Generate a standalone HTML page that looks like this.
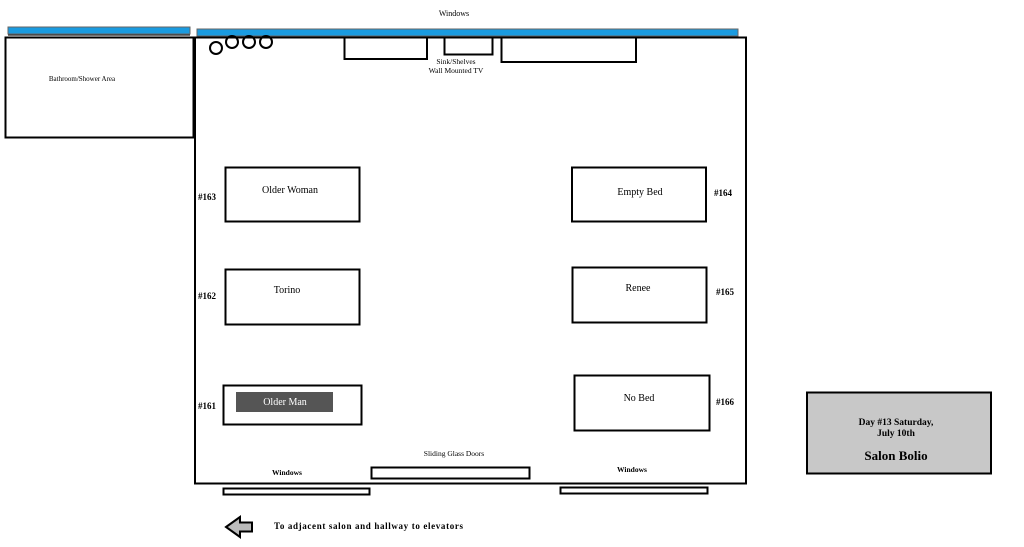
<!DOCTYPE html>
<html><head><meta charset="utf-8"><style>html,body{margin:0;padding:0;background:#fff}svg{display:block}</style></head><body>
<svg width="1024" height="547" viewBox="0 0 1024 547" xmlns="http://www.w3.org/2000/svg" font-family="Liberation Serif, serif">
<rect width="1024" height="547" fill="#fff"/>
<rect x="8" y="27" width="182" height="7" fill="#1a9be0" stroke="#666" stroke-width="1"/>
<line x1="8" y1="35" x2="190" y2="35" stroke="#444" stroke-width="1.5"/>
<rect x="197" y="29" width="541" height="7" fill="#1a9be0" stroke="#666" stroke-width="1"/>
<line x1="197" y1="37" x2="738" y2="37" stroke="#777" stroke-width="1"/>
<text x="454" y="16" font-size="8" text-anchor="middle">Windows</text>
<rect x="5.5" y="37.5" width="188" height="100" fill="none" stroke="#000" stroke-width="2"/>
<text x="82" y="81" font-size="7" text-anchor="middle">Bathroom/Shower Area</text>
<rect x="195" y="37.5" width="551" height="446" fill="none" stroke="#000" stroke-width="2"/>
<g fill="none" stroke="#000" stroke-width="2">
<circle cx="216" cy="48" r="6"/><circle cx="232" cy="42" r="6"/><circle cx="249" cy="42" r="6"/><circle cx="266" cy="42" r="6"/>
</g>
<g fill="none" stroke="#000" stroke-width="2">
<path d="M344.5 37 V59 H427 V37"/>
<path d="M444.5 37 V54.5 H492.5 V37"/>
<path d="M501.5 37 V62 H636 V37"/>
</g>
<text x="456" y="64" font-size="7.5" text-anchor="middle">Sink/Shelves</text>
<text x="456" y="73" font-size="7.5" text-anchor="middle">Wall Mounted TV</text>
<g fill="#fff" stroke="#000" stroke-width="2">
<rect x="225.5" y="167.5" width="134" height="54"/>
<rect x="225.5" y="269.5" width="134" height="55"/>
<rect x="223.5" y="385.5" width="138" height="39"/>
<rect x="572" y="167.5" width="134" height="54"/>
<rect x="572.5" y="267.5" width="134" height="55"/>
<rect x="574.5" y="375.5" width="135" height="55"/>
</g>
<rect x="236" y="392" width="97" height="20" fill="#555"/>
<g font-size="10" text-anchor="middle">
<text x="290" y="193">Older Woman</text>
<text x="287" y="293">Torino</text>
<text x="285" y="405" fill="#fff">Older Man</text>
<text x="640" y="195">Empty Bed</text>
<text x="638" y="291">Renee</text>
<text x="639" y="401">No Bed</text>
</g>
<g font-size="9" font-weight="bold">
<text x="198" y="200">#163</text>
<text x="198" y="299">#162</text>
<text x="198" y="409">#161</text>
<text x="714" y="196">#164</text>
<text x="716" y="295">#165</text>
<text x="716" y="405">#166</text>
</g>
<g fill="#fff" stroke="#000" stroke-width="2">
<rect x="371.5" y="467.5" width="158" height="11"/>
<rect x="223.5" y="488.5" width="146" height="6"/>
<rect x="560.5" y="487.5" width="147" height="6"/>
</g>
<text x="454" y="456" font-size="7.5" text-anchor="middle">Sliding Glass Doors</text>
<text x="287" y="475" font-size="7.5" font-weight="bold" text-anchor="middle">Windows</text>
<text x="632" y="472" font-size="7.5" font-weight="bold" text-anchor="middle">Windows</text>
<path d="M226 527 L240 517 V522.5 H252 V531.5 H240 V537 Z" fill="#bbb" stroke="#000" stroke-width="2"/>
<text x="274" y="529" font-size="9" font-weight="bold" textLength="189" lengthAdjust="spacing">To adjacent salon and hallway to elevators</text>
<rect x="807" y="392.5" width="184" height="81" fill="#c8c8c8" stroke="#000" stroke-width="2"/>
<text x="896" y="425" font-size="9.5" font-weight="bold" text-anchor="middle">Day #13 Saturday,</text>
<text x="896" y="436" font-size="9.5" font-weight="bold" text-anchor="middle">July 10th</text>
<text x="896" y="460" font-size="13" font-weight="bold" text-anchor="middle">Salon Bolio</text>
</svg>
</body></html>
